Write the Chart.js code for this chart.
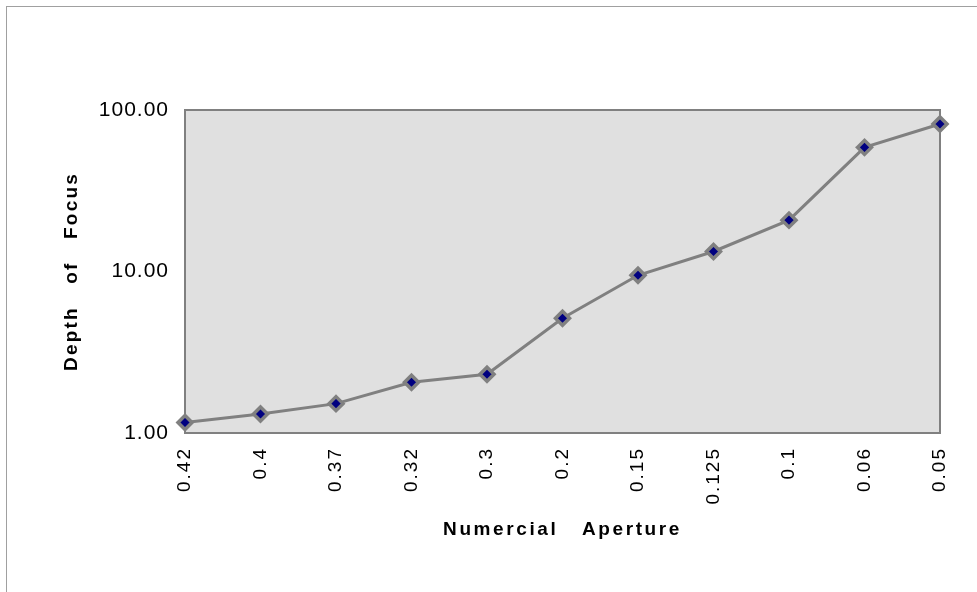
<!DOCTYPE html>
<html>
<head>
<meta charset="utf-8">
<script src="https://cdn.jsdelivr.net/npm/chart.js@4/dist/chart.umd.min.js"></script>
<style>
  body { margin: 0; background: #fff; }
  #frame { position: absolute; left: 6px; top: 6px; width: 1200px; height: 800px; border-left: 1px solid #a0a0a0; border-top: 1px solid #a0a0a0; }
  canvas { position: absolute; left: 0; top: 0; }
</style>
</head>
<body>
<div id="frame"></div>
<canvas id="myChart" width="977" height="592"></canvas>
<script>
// numerical aperture categories and depth of focus values
const apertures = ['0.42', '0.4', '0.37', '0.32', '0.3', '0.2', '0.15', '0.125', '0.1', '0.06', '0.05'];
const depthOfFocus = [1.16, 1.31, 1.52, 2.06, 2.31, 5.13, 9.47, 13.3, 20.8, 58.7, 81.9];
const yTicks = [1, 10, 100];

// the original text is spread out, so add letter spacing per scale
function spaceText(scale, tickLs, titleLs) {
  if (scale._spaced) return;
  scale._spaced = true;
  const dl = scale.drawLabels, dt = scale.drawTitle;
  scale.drawLabels = function (a) {
    this.ctx.letterSpacing = tickLs; dl.call(this, a); this.ctx.letterSpacing = '0px';
  };
  scale.drawTitle = function () {
    this.ctx.letterSpacing = titleLs; dt.call(this); this.ctx.letterSpacing = '0px';
  };
}

const plotBox = {
  id: 'plotBox',
  beforeDraw(chart) {
    const {ctx, chartArea: a} = chart;
    ctx.save();
    ctx.fillStyle = '#e0e0e0';
    ctx.fillRect(a.left, a.top, a.right - a.left, a.bottom - a.top);
    ctx.restore();
  },
  beforeDatasetsDraw(chart) {
    const {ctx, chartArea: a} = chart;
    ctx.save();
    ctx.strokeStyle = '#808080';
    ctx.lineWidth = 2;
    ctx.strokeRect(a.left, a.top, a.right - a.left, a.bottom - a.top);
    ctx.restore();
  }
};

const ctx = document.getElementById('myChart').getContext('2d');
const chart = new Chart(ctx, {
  type: 'line',
  data: {
    labels: apertures,
    datasets: [{
      data: depthOfFocus,
      borderColor: '#808080',
      borderWidth: 3,
      backgroundColor: '#000080',
      pointStyle: 'rectRot',
      pointRadius: 7,
      pointBorderWidth: 3.5,
      pointBorderColor: '#808080',
      pointBackgroundColor: '#000080',
      tension: 0,
      clip: false
    }]
  },
  options: {
    responsive: false,
    animation: false,
    layout: { padding: { left: 55, top: 110, right: 37, bottom: 40 } },
    plugins: { legend: { display: false }, tooltip: { enabled: false } },
    scales: {
      x: {
        offset: false,
        grid: { display: false, drawTicks: false },
        border: { display: false },
        ticks: {
          color: '#000',
          font: { family: 'Liberation Sans, Arial', size: 19 },
          minRotation: 90, maxRotation: 90, padding: 14, autoSkip: false
        },
        title: {
          display: true, text: 'Numercial   Aperture', color: '#000',
          font: { family: 'Liberation Sans, Arial', size: 19, weight: 'bold' },
          padding: { top: 0, bottom: 11 }
        },
        afterFit(scale) { scale.height = 119; spaceText(scale, '2px', '2.6px'); }
      },
      y: {
        type: 'logarithmic',
        min: 1, max: 100,
        grid: { display: false, drawTicks: false },
        border: { display: false },
        afterBuildTicks(scale) { scale.ticks = yTicks.map(v => ({ value: v })); },
        ticks: {
          color: '#000',
          font: { family: 'Liberation Sans, Arial', size: 21 },
          padding: 16,
          callback: v => Number(v).toFixed(2)
        },
        title: {
          display: true, text: 'Depth   of   Focus', color: '#000',
          font: { family: 'Liberation Sans, Arial', size: 19, weight: 'bold' },
          padding: { top: 5, bottom: 0 }
        },
        afterFit(scale) { scale.width = 130; spaceText(scale, '1px', '2.2px'); }
      }
    }
  },
  plugins: [plotBox]
});
</script>
</body>
</html>
